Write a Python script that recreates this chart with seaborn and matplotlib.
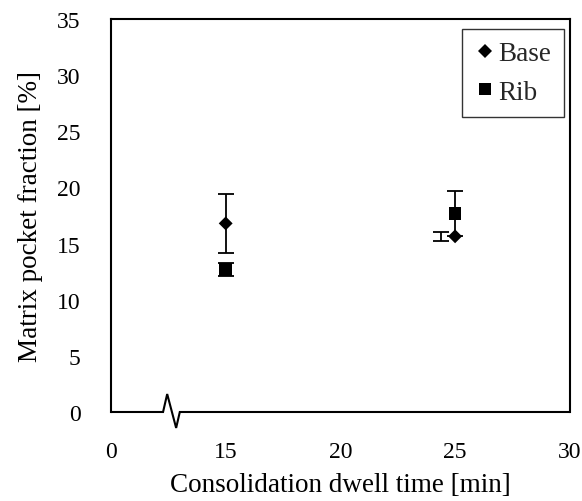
import matplotlib
matplotlib.use("Agg")
import matplotlib.pyplot as plt
import seaborn as sns
import pandas as pd

# Measured matrix pocket fractions
dwell_time = [15, 25]
base_mean = [16.8, 15.65]
base_err = [2.6, 0.4]
rib_mean = [12.7, 17.7]
rib_err = [0.6, 2.0]
# horizontal placement of each error bar (base bar at 25 min sits slightly left)
base_err_x = [15, 24.4]
rib_err_x = [15, 25]

x_ticks = [10, 15, 20, 25, 30]
x_tick_labels = ["0", "15", "20", "25", "30"]
y_ticks = [0, 5, 10, 15, 20, 25, 30, 35]

df = pd.DataFrame({
    "time": dwell_time * 2,
    "fraction": base_mean + rib_mean,
    "region": ["Base"] * len(dwell_time) + ["Rib"] * len(dwell_time),
})

sns.set_theme(style="white")
plt.rcParams["font.family"] = ["Liberation Serif", "DejaVu Serif"]

fig = plt.figure(figsize=(5.82, 5.02), dpi=100)
ax = fig.add_axes([0.1907, 0.1773, 0.979 - 0.1907, 0.960 - 0.1773])

ax.errorbar(base_err_x, base_mean, yerr=base_err, fmt="none", ecolor="black",
            elinewidth=1.3, capsize=5.5, capthick=1.3, zorder=2)
ax.errorbar(rib_err_x, rib_mean, yerr=rib_err, fmt="none", ecolor="black",
            elinewidth=1.3, capsize=5.5, capthick=1.3, zorder=2)

sns.scatterplot(data=df, x="time", y="fraction", style="region",
                size="region", sizes={"Base": 50, "Rib": 80},
                markers={"Base": "D", "Rib": "s"}, color="black",
                edgecolor="black", linewidth=0, ax=ax, zorder=3)

ax.set_xlim(10, 30)
ax.set_ylim(0, 35)
ax.set_xticks(x_ticks)
ax.set_xticklabels(x_tick_labels)
ax.set_yticks(y_ticks)
ax.tick_params(direction="in", length=5, width=1, colors="black",
               labelsize=17)
ax.tick_params(axis="y", pad=22)
ax.tick_params(axis="x", pad=21)

for side in ["left", "right", "top"]:
    ax.spines[side].set_color("black")
    ax.spines[side].set_linewidth(1.5)
ax.spines["bottom"].set_visible(False)

# bottom axis line with a zigzag break near the origin
bx = [10, 12.27, 12.45, 12.84, 13.0, 30]
by = [0, 0, 1.6, -1.42, 0, 0]
ax.plot(bx, by, color="black", lw=1.5, clip_on=False, zorder=4,
        solid_joinstyle="miter")

ax.set_xlabel("Consolidation dwell time [min]", fontsize=19.5, color="black",
              labelpad=7)
ax.set_ylabel("Matrix pocket fraction [%]", fontsize=19.5, color="black",
              labelpad=10)

leg = ax.legend(loc="upper right", bbox_to_anchor=(0.987, 0.975),
                borderaxespad=0, fontsize=19.5, frameon=True, fancybox=False,
                edgecolor="black", handletextpad=0.1, handlelength=0.8,
                borderpad=0.45, labelspacing=0.5, markerscale=1.0)
leg.get_frame().set_linewidth(1.0)

fig.savefig("out.png", dpi=100)
